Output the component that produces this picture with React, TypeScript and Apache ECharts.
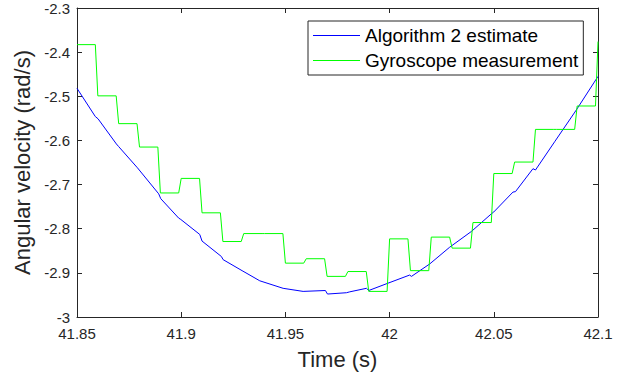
import React, { useEffect, useRef } from "react";
import * as echarts from "echarts";

// Algorithm 2 estimate (blue)
const estTimes = [
  41.85, 41.8588, 41.8601, 41.8689, 41.870, 41.879, 41.8892, 41.8902, 41.8988, 41.8998,
  41.9089, 41.910, 41.9193, 41.9201, 41.9292, 41.9377, 41.9489, 41.9585, 41.9692, 41.9702,
  41.9793, 41.9809, 41.9889, 41.990, 41.9989, 42.0096, 42.0105, 42.0192, 42.0288, 42.0393,
  42.0489, 42.050, 42.0592, 42.0604, 42.0688, 42.070, 42.0792, 42.0896, 42.10,
];
const estValues = [
  -2.482, -2.546, -2.551, -2.608, -2.614, -2.662, -2.721, -2.732, -2.776, -2.779,
  -2.813, -2.828, -2.863, -2.870, -2.895, -2.918, -2.935, -2.942, -2.940, -2.948,
  -2.945, -2.943, -2.935, -2.940, -2.924, -2.905, -2.908, -2.880, -2.842, -2.806,
  -2.766, -2.762, -2.717, -2.716, -2.664, -2.667, -2.603, -2.531, -2.455,
];

// Gyroscope measurement (green, zero-order hold)
const gyroStart = 41.85;
const gyroEnd = 42.1;
const gyroTransitionTimes = [
  41.8588, 41.8688, 41.8788, 41.8888, 41.8988, 41.9088, 41.9188, 41.9288, 41.9388, 41.9488,
  41.9588, 41.9688, 41.9788, 41.9888, 41.9988, 42.0088, 42.0188, 42.0288, 42.0388, 42.0488,
  42.0588, 42.0688, 42.0788, 42.0888, 42.0988,
];
const gyroValues = [
  -2.383, -2.499, -2.562, -2.615, -2.719, -2.686, -2.764, -2.829, -2.811, -2.811,
  -2.878, -2.868, -2.908, -2.897, -2.942, -2.823, -2.895, -2.819, -2.844, -2.786,
  -2.675, -2.649, -2.575, -2.575, -2.522, -2.376,
];
const gyroTransitionDuration = 0.0012;

const xTicks = { min: 41.85, max: 42.1, interval: 0.05 };
const yTicks = { min: -3, max: -2.3, interval: 0.1 };

const seriesNames = ["Algorithm 2 estimate", "Gyroscope measurement"];
const seriesColors = ["#0000ff", "#00ff00"];

const FONT = "'Liberation Sans', Arial, Helvetica, sans-serif";
const AXIS_COLOR = "#262626";

function buildGyro(): number[][] {
  const pts: number[][] = [[gyroStart, gyroValues[0]]];
  for (let i = 0; i < gyroTransitionTimes.length; i++) {
    const t = gyroTransitionTimes[i];
    pts.push([t, gyroValues[i]]);
    pts.push([Math.min(t + gyroTransitionDuration, gyroEnd), gyroValues[i + 1]]);
  }
  const last = pts[pts.length - 1];
  if (last[0] < gyroEnd) pts.push([gyroEnd, gyroValues[gyroValues.length - 1]]);
  return pts;
}

export default function App() {
  const ref = useRef<HTMLDivElement>(null);
  useEffect(() => {
    if (!ref.current) return;
    const chart = echarts.init(ref.current, undefined, { renderer: "svg" });
    const axisLine = { show: true, onZero: false, lineStyle: { color: AXIS_COLOR, width: 1 } };
    const axisTick = { show: true, inside: true, length: 5, lineStyle: { color: AXIS_COLOR, width: 1 } };
    const labelStyle = { color: AXIS_COLOR, fontSize: 15, fontFamily: FONT };
    chart.setOption({
      animation: false,
      backgroundColor: "#ffffff",
      textStyle: { fontFamily: FONT },
      grid: { left: 77, right: 29, top: 8, bottom: 62 },
      xAxis: [
        {
          type: "value",
          position: "bottom",
          ...xTicks,
          axisLine,
          axisTick,
          axisLabel: { ...labelStyle, margin: 9 },
          splitLine: { show: false },
          name: "Time (s)",
          nameLocation: "middle",
          nameGap: 31,
          nameTextStyle: { fontSize: 22, color: AXIS_COLOR, fontFamily: FONT },
        },
        {
          type: "value",
          position: "top",
          ...xTicks,
          axisLine,
          axisTick,
          axisLabel: { show: false },
          splitLine: { show: false },
        },
      ],
      yAxis: [
        {
          type: "value",
          position: "left",
          ...yTicks,
          axisLine,
          axisTick,
          axisLabel: { ...labelStyle, margin: 7 },
          splitLine: { show: false },
          name: "Angular velocity (rad/s)",
          nameLocation: "middle",
          nameGap: 44,
          nameTextStyle: { fontSize: 22, color: AXIS_COLOR, fontFamily: FONT },
        },
        {
          type: "value",
          position: "right",
          ...yTicks,
          axisLine,
          axisTick,
          axisLabel: { show: false },
          splitLine: { show: false },
        },
      ],
      legend: {
        left: 308,
        top: 21,
        orient: "vertical",
        padding: [5, 5, 5, 5],
        itemGap: 6,
        itemWidth: 47,
        itemHeight: 1,
        icon: "rect",
        borderColor: AXIS_COLOR,
        borderWidth: 1,
        borderRadius: 0,
        backgroundColor: "#ffffff",
        textStyle: { fontSize: 19, color: "#000000", fontFamily: FONT },
        data: seriesNames,
      },
      series: [
        {
          name: seriesNames[0],
          type: "line",
          data: estTimes.map((t, i) => [t, estValues[i]]),
          symbol: "none",
          lineStyle: { color: seriesColors[0], width: 1 },
          itemStyle: { color: seriesColors[0] },
          clip: true,
        },
        {
          name: seriesNames[1],
          type: "line",
          data: buildGyro(),
          symbol: "none",
          lineStyle: { color: seriesColors[1], width: 1 },
          itemStyle: { color: seriesColors[1] },
          clip: true,
        },
      ],
    });
    return () => chart.dispose();
  }, []);
  return (
    <div
      ref={ref}
      style={{ position: "fixed", left: 0, top: 0, width: 627, height: 379, background: "#fff" }}
    />
  );
}
